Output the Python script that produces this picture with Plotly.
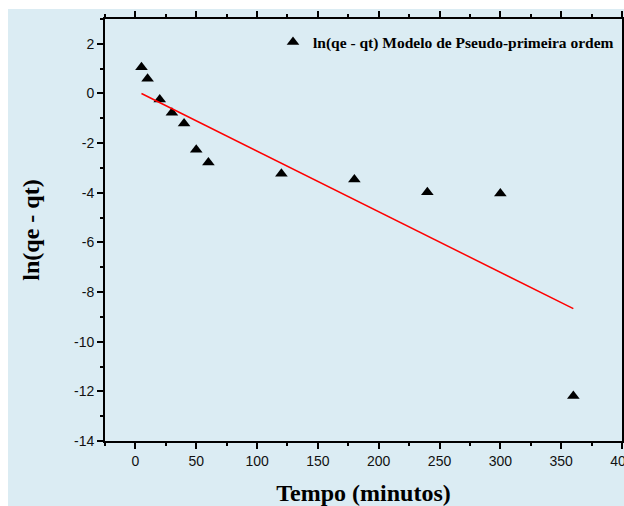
import plotly.graph_objects as go

tempo = [5, 10, 20, 30, 40, 50, 60, 120, 180, 240, 300, 360]
ln_qe_qt = [1.06, 0.59, -0.24, -0.78, -1.21, -2.27, -2.78, -3.23, -3.47, -3.98, -4.03, -12.19]
fit_x = [5, 360]
fit_y = [0.0, -8.67]
x_ticks = [0, 50, 100, 150, 200, 250, 300, 350, 400]
x_tick_labels = ["0", "50", "100", "150", "200", "250", "300", "350", "400"]
y_ticks = [2, 0, -2, -4, -6, -8, -10, -12, -14]
y_tick_labels = ["2", "0", "-2", "-4", "-6", "-8", "-10", "-12", "-14"]

BG = "#dbecf3"
SERIF = "Liberation Serif, Times New Roman, serif"
SANS = "Liberation Sans, Arial, sans-serif"

fig = go.Figure()
fig.add_trace(go.Scatter(
    x=tempo, y=ln_qe_qt, mode="markers",
    marker=dict(symbol="triangle-up", size=11, color="black"),
    name="<b>ln(qe - qt) Modelo de Pseudo-primeira ordem</b>",
))
fig.add_trace(go.Scatter(
    x=fit_x, y=fit_y, mode="lines",
    line=dict(color="red", width=1.5),
    showlegend=False,
))

W, H = 624, 506
L, R, T, B = 105, 2, 19, 65
pw, ph = W - L - R, H - T - B

fig.add_shape(type="rect", xref="paper", yref="paper",
              x0=(8 - L) / pw, x1=(W - L) / pw,
              y0=-B / ph, y1=(ph + T - 9) / ph,
              fillcolor=BG, line=dict(width=0), layer="below")

axis_common = dict(
    showline=True, linecolor="black", linewidth=1.8, mirror="ticks",
    ticks="outside", ticklen=6, tickwidth=1.5, tickcolor="black",
    showgrid=False, zeroline=False, automargin=False,
    ticklabeloverflow="allow",
    tickfont=dict(family=SANS, size=14, color="#111"),
)

fig.update_xaxes(
    range=[-25, 400], tickvals=x_ticks, ticktext=x_tick_labels,
    minor=dict(dtick=25, ticks="outside", ticklen=3, tickwidth=1.5, tickcolor="black"),
    title=dict(text="<b>Tempo (minutos)</b>", font=dict(family=SERIF, size=24, color="black"), standoff=16),
    **axis_common,
)
fig.update_yaxes(
    range=[-14, 3], tickvals=y_ticks, ticktext=y_tick_labels,
    minor=dict(dtick=1, ticks="outside", ticklen=3, tickwidth=1.5, tickcolor="black"),
    title=dict(text="<b>ln(qe - qt)</b>", font=dict(family=SERIF, size=24, color="black"), standoff=28),
    **axis_common,
)

fig.update_layout(
    width=W, height=H,
    margin=dict(l=L, r=R, t=T, b=B),
    paper_bgcolor="white", plot_bgcolor=BG,
    legend=dict(x=(273 - L) / pw, y=0.985, xanchor="left", yanchor="top",
                bgcolor="rgba(0,0,0,0)",
                font=dict(family=SERIF, size=15.5, color="black"),
                itemwidth=30),
    showlegend=True,
)

fig.write_html("out.html")
